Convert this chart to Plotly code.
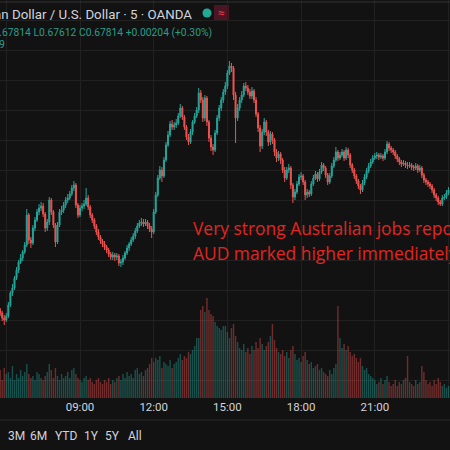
import plotly.graph_objects as go

# ---------------- data (5-minute AUD/USD candles, 05:40 -> 24:00) ----------------
opens = [
    0.67412, 0.67420, 0.67414, 0.67404, 0.67400, 0.67408, 0.67430, 0.67454, 0.67464, 0.67484,
    0.67500, 0.67516, 0.67524, 0.67536, 0.67550, 0.67610, 0.67560, 0.67554, 0.67584, 0.67600,
    0.67616, 0.67624, 0.67628, 0.67612, 0.67584, 0.67596, 0.67640, 0.67616, 0.67590, 0.67556,
    0.67590, 0.67616, 0.67620, 0.67630, 0.67640, 0.67644, 0.67652, 0.67664, 0.67670, 0.67630,
    0.67610, 0.67624, 0.67628, 0.67632, 0.67644, 0.67626, 0.67610, 0.67600, 0.67588, 0.67576,
    0.67566, 0.67558, 0.67552, 0.67546, 0.67540, 0.67532, 0.67526, 0.67530, 0.67526, 0.67528,
    0.67514, 0.67516, 0.67524, 0.67534, 0.67544, 0.67552, 0.67560, 0.67568, 0.67578, 0.67588,
    0.67594, 0.67596, 0.67592, 0.67596, 0.67588, 0.67582, 0.67576, 0.67616, 0.67650, 0.67684,
    0.67700, 0.67688, 0.67720, 0.67750, 0.67770, 0.67792, 0.67786, 0.67790, 0.67794, 0.67808,
    0.67824, 0.67806, 0.67786, 0.67766, 0.67756, 0.67776, 0.67796, 0.67808, 0.67820, 0.67854,
    0.67840, 0.67804, 0.67844, 0.67796, 0.67764, 0.67746, 0.67740, 0.67774, 0.67804, 0.67824,
    0.67840, 0.67856, 0.67868, 0.67894, 0.67908, 0.67904, 0.67850, 0.67804, 0.67824, 0.67840,
    0.67850, 0.67868, 0.67864, 0.67856, 0.67848, 0.67858, 0.67840, 0.67812, 0.67784, 0.67748,
    0.67776, 0.67796, 0.67776, 0.67756, 0.67772, 0.67760, 0.67736, 0.67724, 0.67732, 0.67720,
    0.67700, 0.67684, 0.67700, 0.67704, 0.67670, 0.67646, 0.67656, 0.67672, 0.67686, 0.67688,
    0.67676, 0.67650, 0.67656, 0.67652, 0.67672, 0.67684, 0.67692, 0.67682, 0.67696, 0.67710,
    0.67704, 0.67690, 0.67676, 0.67688, 0.67708, 0.67720, 0.67736, 0.67724, 0.67730, 0.67736,
    0.67724, 0.67740, 0.67730, 0.67710, 0.67700, 0.67688, 0.67678, 0.67668, 0.67660, 0.67674,
    0.67686, 0.67698, 0.67708, 0.67716, 0.67724, 0.67728, 0.67730, 0.67726, 0.67728, 0.67724,
    0.67736, 0.67752, 0.67744, 0.67740, 0.67736, 0.67728, 0.67722, 0.67716, 0.67712, 0.67714,
    0.67710, 0.67708, 0.67710, 0.67706, 0.67704, 0.67708, 0.67700, 0.67704, 0.67690, 0.67680,
    0.67676, 0.67672, 0.67668, 0.67660, 0.67650, 0.67644, 0.67636, 0.67632, 0.67644, 0.67646,
    0.67654,
]
closes = [
    0.67420, 0.67414, 0.67404, 0.67400, 0.67408, 0.67430, 0.67454, 0.67464, 0.67484, 0.67500,
    0.67516, 0.67524, 0.67536, 0.67550, 0.67610, 0.67560, 0.67554, 0.67584, 0.67600, 0.67616,
    0.67624, 0.67628, 0.67612, 0.67584, 0.67596, 0.67640, 0.67616, 0.67590, 0.67556, 0.67590,
    0.67616, 0.67620, 0.67630, 0.67640, 0.67644, 0.67652, 0.67664, 0.67670, 0.67630, 0.67610,
    0.67624, 0.67628, 0.67632, 0.67644, 0.67626, 0.67610, 0.67600, 0.67588, 0.67576, 0.67566,
    0.67558, 0.67552, 0.67546, 0.67540, 0.67532, 0.67526, 0.67530, 0.67526, 0.67528, 0.67514,
    0.67516, 0.67524, 0.67534, 0.67544, 0.67552, 0.67560, 0.67568, 0.67578, 0.67588, 0.67594,
    0.67596, 0.67592, 0.67596, 0.67588, 0.67582, 0.67576, 0.67616, 0.67650, 0.67684, 0.67700,
    0.67688, 0.67720, 0.67750, 0.67770, 0.67792, 0.67786, 0.67790, 0.67794, 0.67808, 0.67824,
    0.67806, 0.67786, 0.67766, 0.67756, 0.67776, 0.67796, 0.67808, 0.67820, 0.67854, 0.67840,
    0.67804, 0.67844, 0.67796, 0.67764, 0.67746, 0.67740, 0.67774, 0.67804, 0.67824, 0.67840,
    0.67856, 0.67868, 0.67894, 0.67908, 0.67904, 0.67850, 0.67804, 0.67824, 0.67840, 0.67850,
    0.67868, 0.67864, 0.67856, 0.67848, 0.67858, 0.67840, 0.67812, 0.67784, 0.67748, 0.67776,
    0.67796, 0.67776, 0.67756, 0.67772, 0.67760, 0.67736, 0.67724, 0.67732, 0.67720, 0.67700,
    0.67684, 0.67700, 0.67704, 0.67670, 0.67646, 0.67656, 0.67672, 0.67686, 0.67688, 0.67676,
    0.67650, 0.67656, 0.67652, 0.67672, 0.67684, 0.67692, 0.67682, 0.67696, 0.67710, 0.67704,
    0.67690, 0.67676, 0.67688, 0.67708, 0.67720, 0.67736, 0.67724, 0.67730, 0.67736, 0.67724,
    0.67740, 0.67730, 0.67710, 0.67700, 0.67688, 0.67678, 0.67668, 0.67660, 0.67674, 0.67686,
    0.67698, 0.67708, 0.67716, 0.67724, 0.67728, 0.67730, 0.67726, 0.67728, 0.67724, 0.67736,
    0.67752, 0.67744, 0.67740, 0.67736, 0.67728, 0.67722, 0.67716, 0.67712, 0.67714, 0.67710,
    0.67708, 0.67710, 0.67706, 0.67704, 0.67708, 0.67700, 0.67704, 0.67690, 0.67680, 0.67676,
    0.67672, 0.67668, 0.67660, 0.67650, 0.67644, 0.67636, 0.67632, 0.67644, 0.67646, 0.67654,
    0.67660,
]
highs = [
    0.67426, 0.67424, 0.67418, 0.67410, 0.67414, 0.67436, 0.67458, 0.67472, 0.67488, 0.67506,
    0.67520, 0.67532, 0.67540, 0.67556, 0.67622, 0.67614, 0.67566, 0.67590, 0.67606, 0.67622,
    0.67632, 0.67636, 0.67634, 0.67616, 0.67602, 0.67646, 0.67644, 0.67620, 0.67594, 0.67596,
    0.67622, 0.67628, 0.67636, 0.67646, 0.67652, 0.67658, 0.67670, 0.67678, 0.67674, 0.67634,
    0.67630, 0.67634, 0.67640, 0.67664, 0.67650, 0.67630, 0.67614, 0.67604, 0.67592, 0.67582,
    0.67570, 0.67562, 0.67558, 0.67550, 0.67544, 0.67536, 0.67536, 0.67534, 0.67534, 0.67532,
    0.67522, 0.67530, 0.67538, 0.67550, 0.67556, 0.67566, 0.67574, 0.67584, 0.67594, 0.67600,
    0.67604, 0.67602, 0.67602, 0.67600, 0.67594, 0.67588, 0.67622, 0.67656, 0.67690, 0.67708,
    0.67706, 0.67726, 0.67756, 0.67778, 0.67798, 0.67800, 0.67796, 0.67802, 0.67814, 0.67832,
    0.67828, 0.67810, 0.67790, 0.67772, 0.67782, 0.67800, 0.67814, 0.67826, 0.67864, 0.67860,
    0.67846, 0.67850, 0.67848, 0.67800, 0.67770, 0.67752, 0.67780, 0.67810, 0.67830, 0.67846,
    0.67862, 0.67876, 0.67900, 0.67918, 0.67914, 0.67908, 0.67856, 0.67832, 0.67846, 0.67858,
    0.67874, 0.67876, 0.67870, 0.67862, 0.67866, 0.67862, 0.67846, 0.67816, 0.67790, 0.67782,
    0.67804, 0.67800, 0.67780, 0.67778, 0.67776, 0.67764, 0.67742, 0.67738, 0.67736, 0.67724,
    0.67706, 0.67706, 0.67712, 0.67708, 0.67674, 0.67662, 0.67678, 0.67692, 0.67696, 0.67692,
    0.67680, 0.67662, 0.67660, 0.67678, 0.67690, 0.67698, 0.67696, 0.67702, 0.67716, 0.67714,
    0.67708, 0.67694, 0.67694, 0.67714, 0.67726, 0.67746, 0.67740, 0.67736, 0.67742, 0.67740,
    0.67746, 0.67744, 0.67734, 0.67714, 0.67704, 0.67692, 0.67682, 0.67672, 0.67680, 0.67692,
    0.67704, 0.67714, 0.67722, 0.67730, 0.67734, 0.67736, 0.67734, 0.67734, 0.67732, 0.67742,
    0.67758, 0.67756, 0.67748, 0.67744, 0.67740, 0.67732, 0.67726, 0.67720, 0.67720, 0.67718,
    0.67716, 0.67716, 0.67714, 0.67710, 0.67714, 0.67712, 0.67710, 0.67708, 0.67694, 0.67684,
    0.67680, 0.67676, 0.67672, 0.67664, 0.67654, 0.67648, 0.67640, 0.67650, 0.67652, 0.67660,
    0.67666,
]
lows = [
    0.67406, 0.67408, 0.67398, 0.67390, 0.67396, 0.67404, 0.67426, 0.67448, 0.67460, 0.67480,
    0.67494, 0.67512, 0.67518, 0.67532, 0.67546, 0.67552, 0.67544, 0.67550, 0.67578, 0.67596,
    0.67610, 0.67618, 0.67606, 0.67576, 0.67578, 0.67590, 0.67610, 0.67584, 0.67546, 0.67552,
    0.67586, 0.67610, 0.67614, 0.67624, 0.67634, 0.67640, 0.67648, 0.67658, 0.67624, 0.67604,
    0.67606, 0.67618, 0.67622, 0.67628, 0.67620, 0.67604, 0.67594, 0.67582, 0.67570, 0.67560,
    0.67552, 0.67546, 0.67540, 0.67534, 0.67526, 0.67520, 0.67520, 0.67518, 0.67520, 0.67508,
    0.67506, 0.67510, 0.67520, 0.67530, 0.67538, 0.67548, 0.67556, 0.67562, 0.67574, 0.67584,
    0.67588, 0.67586, 0.67588, 0.67582, 0.67576, 0.67564, 0.67572, 0.67612, 0.67646, 0.67680,
    0.67676, 0.67684, 0.67716, 0.67746, 0.67766, 0.67780, 0.67780, 0.67784, 0.67790, 0.67804,
    0.67800, 0.67780, 0.67760, 0.67750, 0.67752, 0.67770, 0.67792, 0.67804, 0.67814, 0.67834,
    0.67796, 0.67798, 0.67788, 0.67756, 0.67738, 0.67730, 0.67736, 0.67770, 0.67798, 0.67818,
    0.67834, 0.67850, 0.67862, 0.67890, 0.67896, 0.67840, 0.67754, 0.67798, 0.67818, 0.67834,
    0.67846, 0.67858, 0.67850, 0.67842, 0.67842, 0.67834, 0.67806, 0.67776, 0.67736, 0.67742,
    0.67770, 0.67768, 0.67748, 0.67750, 0.67752, 0.67728, 0.67716, 0.67718, 0.67712, 0.67694,
    0.67676, 0.67680, 0.67694, 0.67662, 0.67634, 0.67640, 0.67652, 0.67668, 0.67680, 0.67670,
    0.67640, 0.67644, 0.67646, 0.67648, 0.67668, 0.67680, 0.67676, 0.67678, 0.67692, 0.67698,
    0.67684, 0.67670, 0.67672, 0.67684, 0.67704, 0.67716, 0.67718, 0.67720, 0.67726, 0.67718,
    0.67720, 0.67724, 0.67704, 0.67694, 0.67682, 0.67672, 0.67662, 0.67652, 0.67656, 0.67670,
    0.67682, 0.67694, 0.67704, 0.67712, 0.67720, 0.67722, 0.67720, 0.67722, 0.67718, 0.67720,
    0.67732, 0.67738, 0.67734, 0.67730, 0.67722, 0.67716, 0.67710, 0.67706, 0.67708, 0.67704,
    0.67702, 0.67704, 0.67700, 0.67698, 0.67700, 0.67694, 0.67696, 0.67684, 0.67674, 0.67670,
    0.67666, 0.67662, 0.67654, 0.67644, 0.67638, 0.67630, 0.67628, 0.67628, 0.67640, 0.67642,
    0.67650,
]
volumes = [
    220, 280, 180, 300, 240, 260, 200, 320, 180, 240,
    200, 280, 220, 260, 340, 240, 200, 220, 180, 260,
    240, 200, 180, 220, 260, 340, 280, 200, 300, 220,
    180, 240, 200, 220, 260, 200, 280, 300, 240, 200,
    180, 160, 200, 220, 180, 200, 160, 140, 180, 200,
    160, 140, 180, 160, 200, 140, 180, 160, 200, 220,
    180, 240, 200, 260, 220, 240, 200, 280, 300, 240,
    260, 220, 280, 300, 340, 400, 360, 400, 380, 420,
    300, 360, 340, 320, 380, 300, 340, 360, 400, 440,
    380, 420, 400, 460, 440, 480, 520, 600, 600, 880,
    920, 860, 1000, 880, 840, 820, 760, 720, 700, 680,
    720, 720, 660, 600, 700, 740, 620, 560, 500, 480,
    540, 460, 500, 440, 520, 480, 560, 500, 600, 540,
    480, 520, 560, 620, 740, 580, 500, 460, 440, 480,
    420, 460, 400, 480, 520, 440, 380, 400, 360, 420,
    460, 380, 340, 360, 300, 320, 340, 280, 300, 260,
    240, 220, 280, 240, 300, 340, 920, 600, 500, 540,
    480, 520, 460, 420, 440, 400, 360, 400, 320, 280,
    300, 240, 220, 200, 180, 140, 160, 200, 140, 180,
    220, 160, 120, 140, 180, 120, 160, 140, 180, 200,
    420, 160, 140, 120, 180, 140, 160, 320, 260, 180,
    140, 160, 120, 180, 140, 200, 160, 120, 140, 100,
    120,
]
bar_index = list(range(len(closes)))
tick_index = [4, 40, 76, 112, 148, 184, 220]
tick_labels = ["06:00", "09:00", "12:00", "15:00", "18:00", "21:00", "22"]
range_buttons = ["3M", "6M", "YTD", "1Y", "5Y", "All"]

title_text = "Australian Dollar / U.S. Dollar · 5 · OANDA"
ohlc_text = "O0.67610 H0.67814 L0.67612 C0.67814 +0.00204 (+0.30%)"
note_lines = ["Very strong Australian jobs report", "AUD marked higher immediately"]

# ---------------- styling ----------------
W, H = 450, 450
PB = 398  # bottom of plotting area in px
BG = "#121212"
GRID = "#212121"
UP, DOWN = "#26a69a", "#ef5350"
UP_V, DOWN_V = "rgba(38,166,154,0.42)", "rgba(239,83,80,0.42)"


def px(x):
    return x / W


def py(y):
    return (PB - y) / PB


vol_colors = [UP_V if c >= o else DOWN_V for o, c in zip(opens, closes)]

fig = go.Figure()
fig.add_trace(go.Bar(
    x=bar_index, y=volumes, yaxis="y2", marker=dict(color=vol_colors, line=dict(width=0)),
    width=0.7, hoverinfo="skip", showlegend=False,
))
fig.add_trace(go.Candlestick(
    x=bar_index, open=opens, high=highs, low=lows, close=closes,
    increasing=dict(line=dict(color=UP, width=1), fillcolor=UP),
    decreasing=dict(line=dict(color=DOWN, width=1), fillcolor=DOWN),
    whiskerwidth=0, hoverinfo="skip", showlegend=False,
))


def ann(text, x, y, size, color, xanchor="center", family="Roboto"):
    return dict(text=text, x=px(x), y=py(y), xref="paper", yref="paper",
                xanchor=xanchor, yanchor="middle", showarrow=False,
                font=dict(size=size, color=color, family=family))


annotations = [
    ann(title_text, 194, 14, 13.3, "#d1d4dc", "right"),
    ann(ohlc_text, 214, 32, 10.3, "#2a9d8a", "right"),
    ann("Vol 1.519", 7, 45, 10.5, "#2a9d8a", "right"),
    ann("≈", 221, 13, 12, "#f23645"),
]
for k, line in enumerate(note_lines):
    annotations.append(ann(line, 191, 228 + 25 * k, 17.4, "#e3241f", "left", "Open Sans"))
for lab, xx in zip(range_buttons, [16, 38, 66, 91, 112, 135]):
    annotations.append(ann(lab, xx, 436, 12, "#d1d4dc"))

shapes = [
    dict(type="line", xref="paper", yref="paper", x0=0, x1=1, y0=py(2), y1=py(2),
         line=dict(color="#333333", width=1)),
    dict(type="line", xref="paper", yref="paper", x0=0, x1=1, y0=py(420), y1=py(420),
         line=dict(color="#2a2a2a", width=1)),
    dict(type="circle", xref="paper", yref="paper", x0=px(202.5), x1=px(211.5),
         y0=py(17.5), y1=py(8.5), fillcolor="#22ab94", line=dict(width=0)),
    dict(type="rect", xref="paper", yref="paper", x0=px(214), x1=px(229),
         y0=py(21), y1=py(5), fillcolor="#4a1624", line=dict(width=0), layer="below"),
]

fig.update_layout(
    width=W, height=H,
    margin=dict(l=0, r=0, t=0, b=H - PB),
    paper_bgcolor=BG, plot_bgcolor=BG,
    font=dict(family="Roboto", color="#d1d4dc"),
    xaxis=dict(range=[0.92, 220.75], tickvals=tick_index, ticktext=tick_labels,
               showgrid=True, gridcolor=GRID, gridwidth=1, zeroline=False, showline=False,
               ticks="", tickfont=dict(size=11.5, color="#d1d4dc"),
               rangeslider=dict(visible=False), fixedrange=True),
    yaxis=dict(range=[0.67244, 0.68040], tick0=0.68, dtick=0.0006, showticklabels=False,
               showgrid=True, gridcolor=GRID, gridwidth=1, zeroline=False, fixedrange=True),
    yaxis2=dict(overlaying="y", range=[0, 3980], visible=False, fixedrange=True),
    annotations=annotations,
    shapes=shapes,
    hovermode=False,
)

fig.write_html(
    "out.html",
    config={"displayModeBar": False, "staticPlot": True},
    post_script="document.body.style.margin='0';document.body.style.overflow='hidden';"
                "document.body.style.background='" + BG + "';",
)
